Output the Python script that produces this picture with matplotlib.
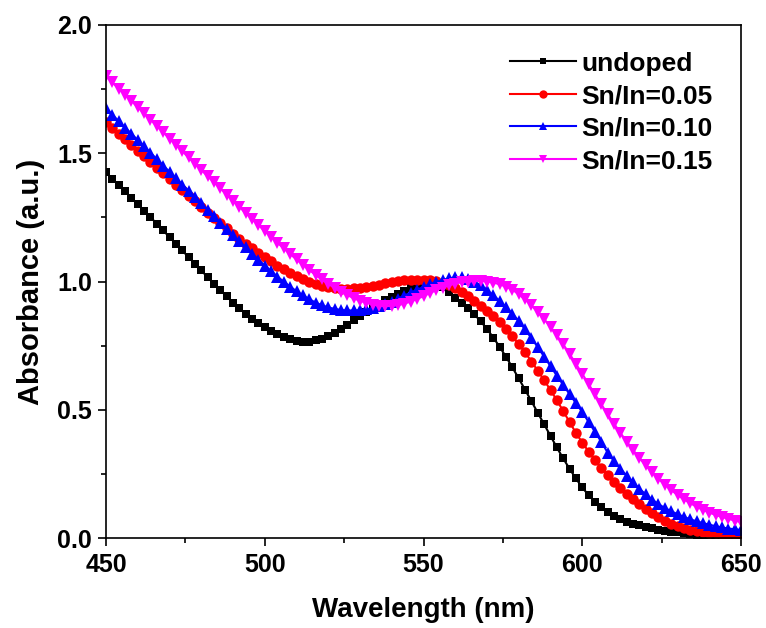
import numpy as np
import matplotlib
matplotlib.use("Agg")
import matplotlib.pyplot as plt
from matplotlib.ticker import MultipleLocator

plt.rcParams['font.family'] = ['Liberation Sans', 'DejaVu Sans']
plt.rcParams['font.weight'] = 'bold'

wavelength = np.arange(450, 651, 2)

undoped = [
    1.425, 1.400, 1.376, 1.351, 1.326, 1.301, 1.276, 1.251, 1.225, 1.199,
    1.173, 1.147, 1.121, 1.095, 1.069, 1.043, 1.017, 0.992, 0.967, 0.942,
    0.918, 0.896, 0.874, 0.855, 0.837, 0.822, 0.808, 0.795, 0.784, 0.775,
    0.769, 0.766, 0.766, 0.770, 0.777, 0.787, 0.800, 0.815, 0.831, 0.848,
    0.865, 0.882, 0.898, 0.913, 0.927, 0.940, 0.952, 0.963, 0.973, 0.981,
    0.987, 0.989, 0.986, 0.977, 0.961, 0.937, 0.918, 0.897, 0.872, 0.845,
    0.815, 0.781, 0.745, 0.706, 0.665, 0.622, 0.578, 0.533, 0.488, 0.443,
    0.398, 0.353, 0.310, 0.270, 0.232, 0.197, 0.167, 0.141, 0.119, 0.101,
    0.086, 0.074, 0.064, 0.056, 0.049, 0.043, 0.038, 0.033, 0.029, 0.025,
    0.022, 0.019, 0.016, 0.013, 0.011, 0.009, 0.008, 0.007, 0.006, 0.005,
    0.005,
]

sn_005 = [
    1.620, 1.598, 1.576, 1.554, 1.532, 1.510, 1.488, 1.466, 1.444, 1.422,
    1.400, 1.378, 1.356, 1.334, 1.312, 1.290, 1.269, 1.248, 1.227, 1.207,
    1.187, 1.167, 1.148, 1.129, 1.111, 1.094, 1.078, 1.062, 1.047, 1.033,
    1.020, 1.008, 0.998, 0.989, 0.982, 0.977, 0.974, 0.972, 0.972, 0.973,
    0.976, 0.979, 0.983, 0.988, 0.993, 0.997, 1.001, 1.004, 1.006, 1.007,
    1.007, 1.005, 1.001, 0.994, 0.986, 0.975, 0.958, 0.942, 0.925, 0.906,
    0.886, 0.864, 0.841, 0.815, 0.786, 0.755, 0.724, 0.688, 0.652, 0.615,
    0.577, 0.537, 0.495, 0.452, 0.410, 0.372, 0.337, 0.304, 0.273, 0.245,
    0.219, 0.195, 0.173, 0.152, 0.132, 0.114, 0.097, 0.082, 0.068, 0.056,
    0.046, 0.038, 0.032, 0.027, 0.023, 0.020, 0.018, 0.017, 0.016, 0.015,
    0.015,
]

sn_010 = [
    1.675, 1.650, 1.625, 1.600, 1.576, 1.551, 1.527, 1.502, 1.477, 1.452,
    1.428, 1.403, 1.378, 1.354, 1.329, 1.305, 1.280, 1.255, 1.230, 1.205,
    1.181, 1.157, 1.133, 1.109, 1.085, 1.062, 1.040, 1.019, 0.999, 0.980,
    0.962, 0.946, 0.931, 0.918, 0.907, 0.899, 0.893, 0.889, 0.887, 0.887,
    0.888, 0.891, 0.896, 0.903, 0.912, 0.922, 0.933, 0.945, 0.957, 0.968,
    0.979, 0.989, 0.998, 1.006, 1.012, 1.016, 1.016, 1.010, 1.000, 0.985,
    0.966, 0.946, 0.924, 0.900, 0.874, 0.846, 0.813, 0.779, 0.744, 0.707,
    0.670, 0.633, 0.597, 0.561, 0.526, 0.491, 0.453, 0.414, 0.375, 0.333,
    0.300, 0.270, 0.243, 0.218, 0.192, 0.170, 0.150, 0.132, 0.117, 0.104,
    0.093, 0.082, 0.073, 0.065, 0.058, 0.052, 0.046, 0.041, 0.037, 0.034,
    0.031,
]

sn_015 = [
    1.800, 1.776, 1.752, 1.728, 1.704, 1.680, 1.655, 1.631, 1.606, 1.582,
    1.557, 1.533, 1.508, 1.484, 1.459, 1.435, 1.411, 1.387, 1.363, 1.339,
    1.315, 1.291, 1.267, 1.243, 1.220, 1.197, 1.174, 1.151, 1.129, 1.107,
    1.086, 1.065, 1.045, 1.026, 1.008, 0.991, 0.975, 0.960, 0.947, 0.935,
    0.925, 0.917, 0.910, 0.906, 0.904, 0.905, 0.908, 0.914, 0.922, 0.932,
    0.943, 0.955, 0.966, 0.976, 0.985, 0.992, 0.997, 1.000, 1.002, 1.002,
    1.000, 0.996, 0.989, 0.980, 0.968, 0.950, 0.930, 0.907, 0.881, 0.853,
    0.823, 0.790, 0.755, 0.718, 0.679, 0.640, 0.600, 0.560, 0.521, 0.483,
    0.446, 0.410, 0.376, 0.343, 0.312, 0.283, 0.256, 0.231, 0.208, 0.187,
    0.168, 0.151, 0.136, 0.122, 0.110, 0.099, 0.090, 0.082, 0.075, 0.068,
    0.062,
]

labels = ['undoped', 'Sn/In=0.05', 'Sn/In=0.10', 'Sn/In=0.15']
colors = ['black', 'red', 'blue', 'magenta']
markers = ['s', 'o', '^', 'v']
msizes = [6.0, 7.5, 8.0, 8.0]
series = [undoped, sn_005, sn_010, sn_015]

fig = plt.figure(figsize=(7.66, 6.28), dpi=100)
ax = fig.add_axes([106/766, 1 - 538/628, 635/766, 513/628])

for y, lab, c, m, ms in zip(series, labels, colors, markers, msizes):
    ax.plot(wavelength, y, color=c, marker=m, markersize=ms, linewidth=1.5,
            markeredgewidth=0, label=lab)

ax.set_xlim(450, 650)
ax.set_ylim(0, 2.0)
ax.xaxis.set_major_locator(MultipleLocator(50))
ax.xaxis.set_minor_locator(MultipleLocator(25))
ax.yaxis.set_major_locator(MultipleLocator(0.5))
ax.yaxis.set_minor_locator(MultipleLocator(0.25))
ax.yaxis.set_major_formatter(matplotlib.ticker.FormatStrFormatter('%.1f'))

for s in ax.spines.values():
    s.set_linewidth(1.2)
ax.tick_params(which='major', direction='out', length=6, width=1.2)
ax.tick_params(which='minor', direction='out', length=3.5, width=1.2)
ax.tick_params(axis='x', which='major', labelsize=18, pad=5)
ax.tick_params(axis='y', which='major', labelsize=18, pad=4)
for t in ax.get_xticklabels() + ax.get_yticklabels():
    t.set_fontweight('bold')

ax.set_xlabel('Wavelength (nm)', fontsize=20, fontweight='bold', labelpad=14)
ax.set_ylabel('Absorbance (a.u.)', fontsize=21, fontweight='bold', labelpad=9)

leg = ax.legend(loc='upper left', bbox_to_anchor=(0.636, 0.948), frameon=False,
                handlelength=2.5, handletextpad=0.2,
                labelspacing=0.32, borderpad=0, borderaxespad=0,
                markerscale=0.8, prop={'weight': 'bold', 'size': 19})

fig.savefig('out.png', dpi=100)
